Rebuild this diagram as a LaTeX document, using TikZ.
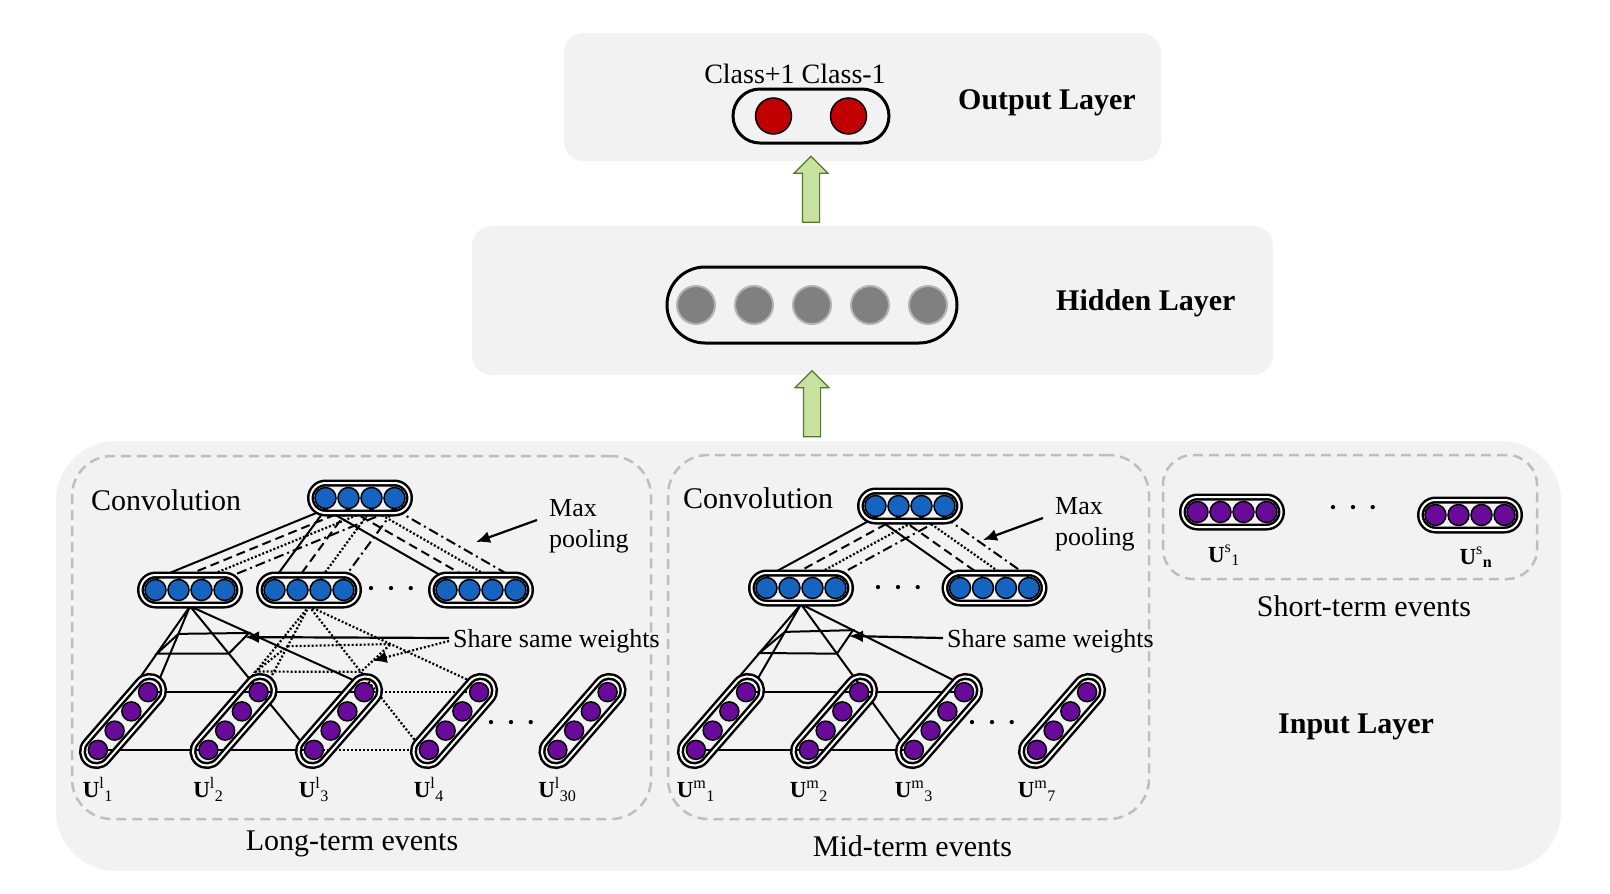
\documentclass[tikz,border=0pt]{standalone}
\usepackage{fontspec}
\setmainfont{Liberation Serif}
\usetikzlibrary{positioning,calc,shapes.misc,shapes.arrows,arrows.meta}

\definecolor{panelgray}{RGB}{242,242,242}
\definecolor{framegray}{RGB}{190,190,190}
\definecolor{unitblue}{RGB}{21,101,192}
\definecolor{unitpurple}{RGB}{105,10,155}
\definecolor{unitred}{RGB}{192,0,0}
\definecolor{unitgray}{RGB}{128,128,128}
\definecolor{arrowgreen}{RGB}{198,226,158}
\definecolor{arrowedge}{RGB}{88,118,48}

\newcommand{\dotrow}{·\hspace{8pt}·\hspace{8pt}·}

\pgfdeclarelayer{panels}
\pgfdeclarelayer{links}
\pgfsetlayers{panels,links,main}

\begin{document}
\begin{tikzpicture}[x=1pt,y=-1pt,
  panel/.style={fill=panelgray,rounded corners=20pt,inner sep=0pt},
  frame/.style={draw=framegray,line width=2.5pt,dash pattern=on 10pt off 6pt,rounded corners=40pt,inner sep=0pt},
  hpill/.style={rounded rectangle,draw,line width=2.5pt,double=white,double distance=2pt,minimum width=99pt,minimum height=30pt,inner sep=0pt},
  upill/.style={hpill,minimum width=109pt,minimum height=28pt,rotate=49},
  unit/.style={circle,draw,line width=1.5pt,minimum size=21pt,inner sep=0pt},
  uunit/.style={unit,fill=unitpurple,minimum size=19pt},
  gunit/.style={circle,fill=unitgray,draw=unitgray!60,line width=2pt,minimum size=38pt,inner sep=0pt},
  runit/.style={unit,fill=unitred,minimum size=36pt},
  bigpill/.style={rounded rectangle,draw,line width=3pt,inner sep=0pt},
  bigtext/.style={font=\fontsize{30}{34}\selectfont,inner sep=0pt},
  layertext/.style={font=\fontsize{30}{34}\selectfont\bfseries,inner sep=0pt,anchor=west},
  note/.style={font=\fontsize{26}{31}\selectfont,inner sep=0pt,align=left,anchor=west},
  ulab/.style={font=\fontsize{23}{26}\selectfont,inner sep=0pt,anchor=base},
  dots/.style={font=\fontsize{36}{38}\selectfont,inner sep=0pt},
  conn/.style={line width=2pt},
  sdash/.style={conn,dash pattern=on 9pt off 5pt},
  sdot/.style={line width=2.2pt,dash pattern=on 2pt off 2pt},
  sdashdot/.style={conn,dash pattern=on 10pt off 4pt on 2pt off 4pt},
  pointer/.style={line width=2.2pt,-{Latex[length=14pt,width=12pt]}},
  fatarrow/.style={single arrow,draw=arrowedge,fill=arrowgreen,line width=1.2pt,rotate=90,minimum height=66pt,inner sep=8pt,single arrow head extend=8.5pt}]

\useasboundingbox (0,0) rectangle (1610,894);

% background panels and dashed groups
\begin{pgfonlayer}{panels}
\fill[white] (0,0) rectangle (1610,894);
\node[panel,minimum width=597pt,minimum height=128pt] (outbox) at (862.5,97) {};
\node[panel,minimum width=801pt,minimum height=149pt] (hidbox) at (872.5,300.5) {};
\node[panel,minimum width=1505pt,minimum height=430pt,rounded corners=60pt] (inbox) at (808.5,656) {};
\node[frame,minimum width=579pt,minimum height=363pt] (lframe) at (361.5,637.5) {};
\node[frame,minimum width=481pt,minimum height=364pt] (mframe) at (908.5,637) {};
\node[frame,minimum width=374pt,minimum height=124pt,rounded corners=30pt] (sframe) at (1350,517) {};
\end{pgfonlayer}

% output layer
\node[bigpill,minimum width=156pt,minimum height=54pt] (opill) at (811,116) {};
\node[runit] (o1) at ([xshift=-37.5pt]opill.center) {};
\node[runit] (o2) at ([xshift=37.5pt]opill.center) {};
\node[bigtext,font=\fontsize{28}{32}\selectfont] (cls) at (795,74) {Class+1 Class-1};
\node[layertext] (otext) at (958,103) {Output Layer};

% hidden layer
\node[bigpill,minimum width=290pt,minimum height=76pt] (hpill) at (812,305) {};
\foreach \k/\d in {1/-116,2/-58,3/0,4/58,5/116}
  \node[gunit] (h\k) at ([xshift=\d pt]hpill.center) {};
\node[layertext] (htext) at (1056,303) {Hidden Layer};

\node[fatarrow] (up1) at ($(hidbox.north -| opill)!0.5!(outbox.south -| opill)$) {};
\node[fatarrow] (up2) at ($(inbox.north -| hpill)!0.5!(hidbox.south -| hpill)$) {};

% horizontal pills (convolution, pooling, short-term)
\foreach \nm/\cx/\cy/\col in {lT/360/498/unitblue,lA/190/590/unitblue,lB/309/590/unitblue,lC/481/590/unitblue,
    mT/910/506/unitblue,mD/801/588/unitblue,mE/994.5/588/unitblue,s1/1232/512/unitpurple,sn/1470/515/unitpurple}{
  \node[hpill] (\nm) at (\cx,\cy) {};
  \foreach \k/\d in {1/-34.5,2/-11.5,3/11.5,4/34.5}
    \node[unit,fill=\col] (\nm-\k) at ([xshift=\d pt]\nm.center) {};
}

% long-term inputs
\foreach \cx/\lab [count=\i] in {123/1,233.5/2,339/3,454/4,582.5/30}{
  \node[upill] (lp\i) at (\cx,721) {};
  \foreach \k/\d in {1/-1.5,2/-0.5,3/0.5,4/1.5}
    \node[uunit] (l\i-\k) at ($(lp\i.center)+(49:\d*25.5pt)$) {};
  \node[ulab] (ll\i) at ([yshift=-48pt]l\i-1.center) {$\mathbf{U}^{\mathrm{l}}{}_{\mathrm{\lab}}$};
}

% mid-term inputs
\foreach \cx/\lab [count=\i] in {721/1,834/2,939/3,1062/7}{
  \node[upill] (mp\i) at (\cx,721) {};
  \foreach \k/\d in {1/-1.5,2/-0.5,3/0.5,4/1.5}
    \node[uunit] (m\i-\k) at ($(mp\i.center)+(49:\d*25.5pt)$) {};
  \node[ulab] (ml\i) at ([yshift=-48pt]m\i-1.center) {$\mathbf{U}^{\mathrm{m}}{}_{\mathrm{\lab}}$};
}

\node[ulab] (sl1) at ([xshift=-8pt,yshift=-50pt]s1.center) {$\mathbf{U}^{\mathrm{s}}{}_{\mathrm{1}}$};
\node[ulab] (sln) at ([xshift=6pt,yshift=-49pt]sn.center) {$\mathbf{U}^{\mathrm{s}}{}_{\mathbf{n}}$};

\node[dots] (ldots1) at (391,593) {\dotrow};
\node[dots] (ldots2) at (511,727) {\dotrow};
\node[dots] (mdots1) at (898,592) {\dotrow};
\node[dots] (mdots2) at (992,727) {\dotrow};
\node[dots] (sdots) at (1353,512) {\dotrow};

% texts
\node[bigtext,anchor=west] (lconv) at (91,500) {Convolution};
\node[bigtext,anchor=west] (mconv) at (683,498) {Convolution};
\node[note] (lmax) at (549,526) {Max\\pooling};
\node[note] (mmax) at (1055,524) {Max\\pooling};
\node[note] (lshare) at (453,641) {Share same weights};
\node[note] (mshare) at (947,641) {Share same weights};
\node[bigtext] (ltext) at (352,844) {Long-term events};
\node[bigtext] (mtext) at (912.5,846) {Mid-term events};
\node[bigtext] (stext) at (1364,606) {Short-term events};
\node[layertext] (itext) at (1278,727) {Input Layer};

\coordinate (lmaxtip) at (476,542);
\coordinate (mmaxtip) at (983,540);

\begin{pgfonlayer}{links}
% max pooling: one line style per pooled unit
\foreach \k/\sty in {1/conn,2/sdash,3/sdot,4/sdashdot}{
  \foreach \p in {lA,lB,lC}
    \draw[\sty] (lT-\k.south) -- (\p-\k.north);
  \foreach \p in {mD,mE}
    \draw[\sty] (mT-\k.south) -- (\p-\k.north);
}

% long-term, second window (dotted)
\coordinate (ldTL) at ($(lB.south)!0.55!(lp2.east)$);
\coordinate (ldTR) at ($(lB.south)!0.51!(lp4.north east)$);
\coordinate (ldBR) at ($(lB.south)!0.485!(lp4.north west)$);
\coordinate (ldBL) at ($(lB.south)!0.88!(lp2.north east)$);
\draw[sdot] (lB.south) -- (lp2.north east) (lB.south) -- (lp2.east)
  (lB.south) -- (lp4.north west) (lB.south) -- (lp4.north east);
\draw[sdot] (ldTL) -- (ldTR) -- (ldBR) -- (ldBL) -- cycle;
\draw[sdot] (l2-4) -- (l4-4) (l2-1) -- (l4-1);

% long-term, first window
\coordinate (lsTL) at ($(lA.south)!0.38!(lp1.east)$);
\coordinate (lsTR) at ($(lA.south)!0.36!(lp3.north east)$);
\coordinate (lsBR) at ($(lA.south)!0.35!(lp3.north west)$);
\coordinate (lsBL) at ($(lA.south)!0.64!(lp1.north east)$);
\draw[conn] (lA.south) -- (lp1.north east) (lA.south) -- (lp1.east)
  (lA.south) -- (lp3.north west) (lA.south) -- (lp3.north east);
\draw[conn] (lsTL) -- (lsTR) -- (lsBR) -- (lsBL) -- cycle;
\draw[conn] (l1-4) -- (l3-4) (l1-1) -- (l3-1);

% mid-term window
\coordinate (msTL) at ($(mD.south)!0.37!(mp1.east)$);
\coordinate (msTR) at ($(mD.south)!0.34!(mp3.north east)$);
\coordinate (msBR) at ($(mD.south)!0.36!(mp3.north west)$);
\coordinate (msBL) at ($(mD.south)!0.64!(mp1.north east)$);
\draw[conn] (mD.south) -- (mp1.north east) (mD.south) -- (mp1.east)
  (mD.south) -- (mp3.north west) (mD.south) -- (mp3.north east);
\draw[conn] (msTL) -- (msTR) -- (msBR) -- (msBL) -- cycle;
\draw[conn] (m1-4) -- (m3-4) (m1-1) -- (m3-1);

% pointers
\draw[pointer] ([xshift=-12pt,yshift=6pt]lmax.west) -- (lmaxtip);
\draw[pointer] ([xshift=-12pt,yshift=6pt]mmax.west) -- (mmaxtip);
\draw[pointer] ([xshift=-4pt,yshift=3pt]lshare.west) -- ($(lsTR)!0.2!(lsBR)$);
\draw[pointer,dash pattern=on 2pt off 2pt] ([xshift=-4pt,yshift=0pt]lshare.west) -- ($(ldTR)!0.6!(ldBR)$);
\draw[pointer] ([xshift=-4pt,yshift=3pt]mshare.west) -- ($(msTR)!0.25!(msBR)$);
\end{pgfonlayer}
\end{tikzpicture}
\end{document}
